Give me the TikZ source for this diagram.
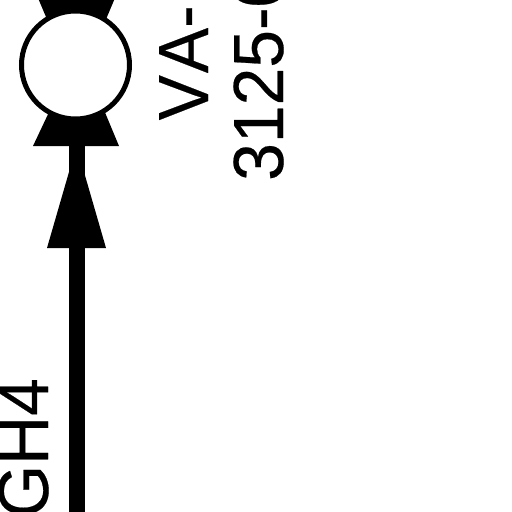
\documentclass[tikz,border=0pt]{standalone}
\usepackage{fontspec}
\setmainfont{Liberation Sans}[FakeStretch=0.955,FakeBold=0.3]
\begin{document}
\begin{tikzpicture}[x=1pt,y=-1pt,
  blackshape/.style={fill=black,draw=none},
  valve/.style={circle,draw=black,fill=white,line width=5pt,minimum size=108pt,inner sep=0pt},
  stem/.style={draw=black,line width=15.5pt},
  label/.style={rotate=90,inner sep=0pt,font=\fontsize{71}{71}\selectfont}]
\useasboundingbox (0,0) rectangle (512,512);
\clip (0,0) rectangle (512,512);
\coordinate (stembottom) at (77,520);
\coordinate (stemtop) at (77,120);
\draw[stem] (stembottom) -- (stemtop);
\fill[blackshape] (69,172) -- (84,172) -- (106,248) -- (47,248) -- cycle;
\fill[blackshape] (50,110) -- (104,110) -- (119,146) -- (33,146) -- cycle;
\fill[blackshape] (38,-2) -- (115,-2) -- (104,24) -- (49,24) -- cycle;
\node[valve] (valve) at (75.5,65) {};
\node[label,anchor=base west] (va) at (208,120.5) {V\kern2pt A-};
\node[label,anchor=base west] (num) at (283,181) {3125-0};
\node[label,anchor=base east] (gh) at (48,378) {GH4};
\end{tikzpicture}
\end{document}
